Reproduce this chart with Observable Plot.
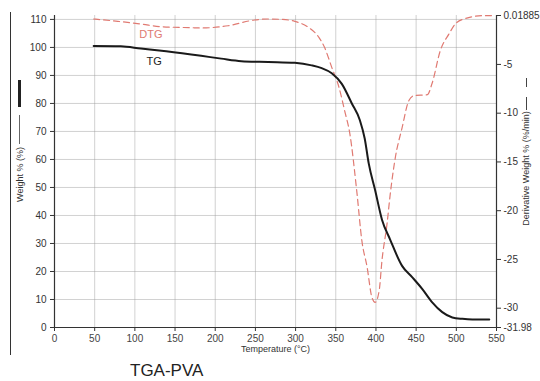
<!DOCTYPE html>
<html><head><meta charset="utf-8">
<script src="https://cdn.jsdelivr.net/npm/d3@7"></script>
<script src="https://cdn.jsdelivr.net/npm/@observablehq/plot@0.6"></script>
<style>
body{margin:0;background:#fff;font-family:"Liberation Sans",Arial,sans-serif}
#wrap{position:relative;width:540px;height:381px;overflow:hidden;background:#fff}
#chart svg{display:block}
.deco{position:absolute}
#frame{left:10px;top:12px;width:0;height:343px;border-left:1.2px solid #333}
#legL1{left:18px;top:80px;width:2.5px;height:27px;background:#222}
#legL2{left:19px;top:115px;width:1px;height:29px;background:#666}
#legR1{left:526px;top:97px;width:1px;height:13px;background:#444}
#legR2{left:526px;top:78px;width:1px;height:9px;background:#444}
#caption{position:absolute;left:130px;top:361px;font-size:17px;color:#222;line-height:20px}
</style></head>
<body><div id="wrap"><div id="chart"></div>
<div class="deco" id="frame"></div><div class="deco" id="legL1"></div><div class="deco" id="legL2"></div>
<div class="deco" id="legR1"></div><div class="deco" id="legR2"></div>
<div id="caption">TGA-PVA</div></div>
<script>
// TG curve: temperature (°C) and weight (%)
const tgTemp   = [48.75, 82.5, 107.5, 139, 182.5, 207.5, 232.5, 266, 299, 320, 332.5, 345, 357.5, 370, 380, 386, 391, 399, 407.5, 417.5, 432.5, 445, 457.5, 470, 482.5, 495, 507.5, 520, 541];
const tgWeight = [100.5, 100.4, 99.6, 98.6, 97.0, 96.0, 95.1, 94.8, 94.5, 93.6, 92.6, 90.8, 87.0, 80.0, 74.0, 67.5, 58.6, 49.0, 38.5, 31.5, 22.0, 18.0, 13.8, 9.0, 5.5, 3.6, 3.1, 2.9, 2.9];
// DTG curve: temperature (°C) and derivative weight (%/min)
const dtgTemp = [48.75, 78.75, 107.5, 132.5, 170, 182.5, 216, 249, 266, 282.5, 299, 316, 329, 336, 345, 354, 361, 367.5, 376, 382.5, 389, 395, 399, 404, 407.5, 414, 417.5, 424, 432.5, 441, 447.5, 464, 470, 480, 491, 499, 511, 532.5, 545];
const dtgRate = [-0.34, -0.58, -0.85, -1.13, -1.23, -1.26, -1.03, -0.44, -0.34, -0.38, -0.58, -1.2, -2.23, -3.25, -5.3, -7.35, -9.74, -12.1, -17.9, -23.1, -25.8, -28.9, -29.4, -28.2, -25.1, -21.2, -18.5, -14.6, -11.5, -8.7, -8.2, -8.1, -6.9, -3.6, -1.85, -0.82, -0.3, 0, 0.01];
const xTicks = [0, 50, 100, 150, 200, 250, 300, 350, 400, 450, 500, 550];
const leftTicks = [0, 10, 20, 30, 40, 50, 60, 70, 80, 90, 100, 110];
const rightTicks = [0.01885, -5, -10, -15, -20, -25, -30, -31.98];
const rightTickLabels = ["0.01885", "-5", "-10", "-15", "-20", "-25", "-30", "-31.98"];

const rightMin = -31.98, rightMax = 0.01885, leftTop = 111.4;
const toLeft = r => (r - rightMin) / (rightMax - rightMin) * leftTop;

const tg = tgTemp.map((t, i) => ({t, w: tgWeight[i]}));
const dtg = dtgTemp.map((t, i) => ({t, v: toLeft(dtgRate[i])}));
const rightPos = rightTicks.map(toLeft);
const rightLabel = new Map(rightPos.map((p, i) => [p, rightTickLabels[i]]));

const plot = Plot.plot({
  width: 540, height: 358,
  marginLeft: 54, marginRight: 44, marginTop: 15, marginBottom: 31,
  style: {fontFamily: "'Liberation Sans', Arial, sans-serif", fontSize: "10px", color: "#333", background: "#fff"},
  x: {domain: [0, 550]},
  y: {domain: [0, leftTop]},
  marks: [
    Plot.gridX(xTicks, {stroke: "#999", strokeOpacity: 0.45}),
    Plot.gridY(leftTicks, {stroke: "#999", strokeOpacity: 0.45}),
    Plot.line(dtg, {x: "t", y: "v", stroke: "#e07a72", strokeWidth: 1.2, strokeDasharray: "6,4", curve: "monotone-x"}),
    Plot.line(tg, {x: "t", y: "w", stroke: "#1a1a1a", strokeWidth: 2, curve: "monotone-x"}),
    Plot.ruleX([0], {stroke: "#333", strokeWidth: 1.2}),
    Plot.ruleX([550], {stroke: "#333", strokeWidth: 1.2}),
    Plot.ruleY([0], {stroke: "#333", strokeWidth: 1.2}),
    Plot.axisY({ticks: leftTicks, anchor: "left", tickSize: 4, tickPadding: 4, label: null, fill: "#333"}),
    Plot.axisY({ticks: rightPos, anchor: "right", tickSize: 4, tickPadding: 3, label: null, tickFormat: d => rightLabel.get(d), fill: "#333"}),
    Plot.axisX({ticks: xTicks, anchor: "bottom", tickSize: 4, tickPadding: 3, label: null, fill: "#444"}),
    Plot.text(["Temperature (°C)"], {frameAnchor: "bottom", dy: 24, fontSize: 9, fill: "#333"}),
    Plot.text(["Weight % (%)"], {frameAnchor: "left", dx: -34, dy: 3, rotate: -90, textAnchor: "middle", fontSize: 9, fill: "#333"}),
    Plot.text(["Derivative Weight % (%/min)"], {frameAnchor: "right", dx: 30, dy: -3, rotate: -90, textAnchor: "middle", fontSize: 9, fill: "#333"}),
    Plot.text(["DTG"], {x: 120, y: 104.5, fontSize: 11, fill: "#e07a72"}),
    Plot.text(["TG"], {x: 124, y: 95, fontSize: 11, fill: "#222"})
  ]
});
document.getElementById("chart").appendChild(plot);
</script>
</body></html>
